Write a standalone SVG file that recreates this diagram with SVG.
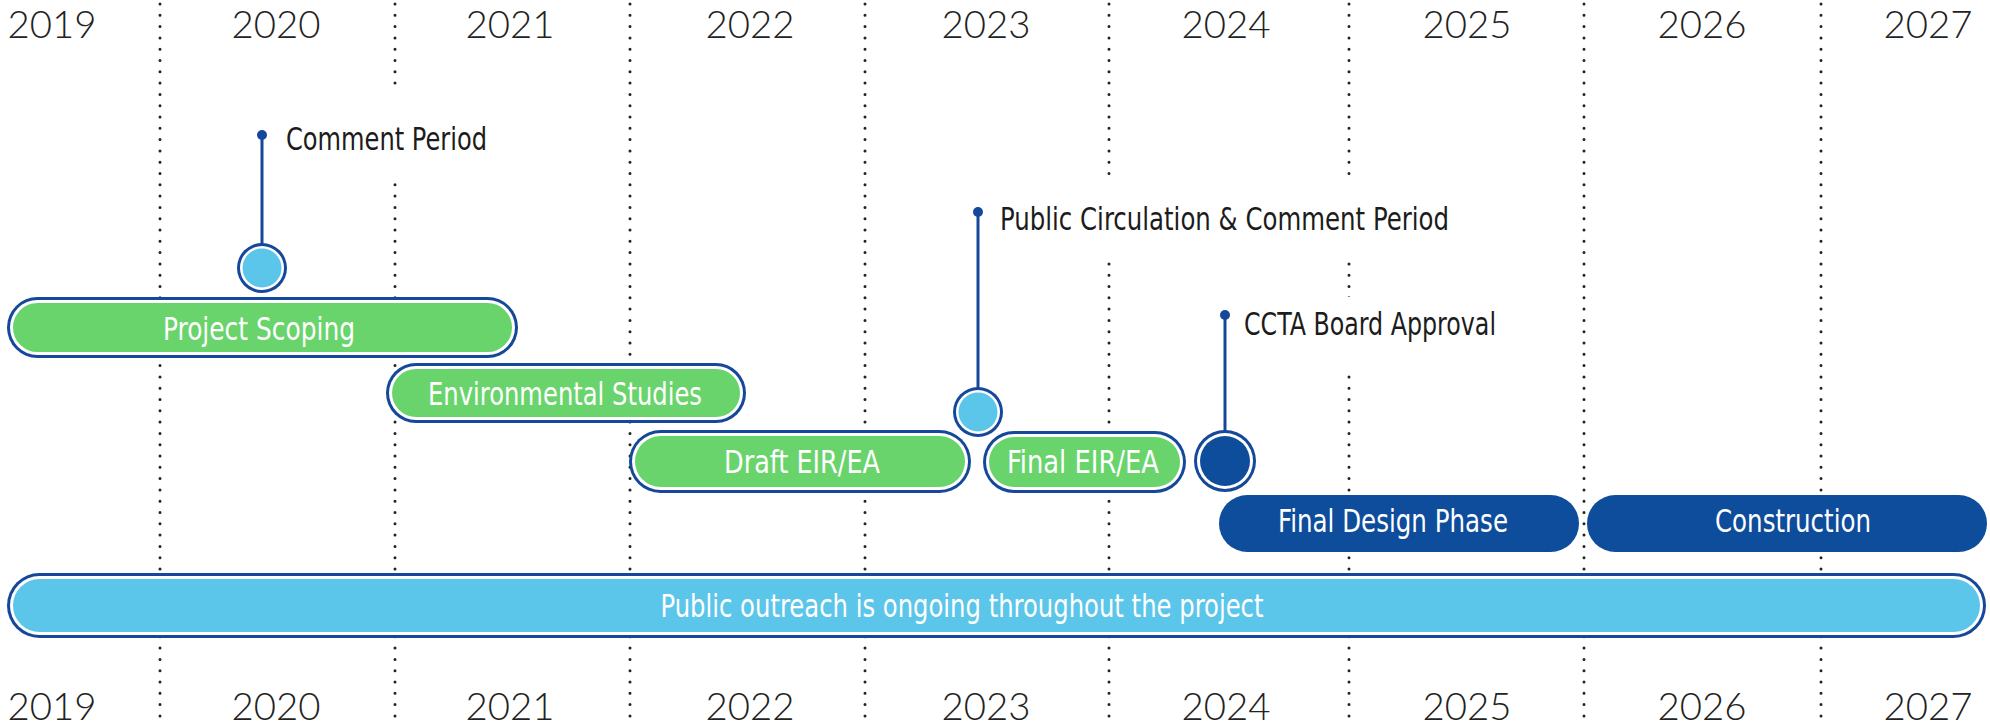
<svg xmlns="http://www.w3.org/2000/svg" width="1990" height="727" viewBox="0 0 1990 727">
<style>
.grid{stroke:#222;stroke-width:3;stroke-linecap:round;stroke-dasharray:0 11.3;fill:none}
.yr{font-family:Lato,"Noto Sans","Liberation Sans",sans-serif;font-weight:300;font-size:37px;fill:#222;text-anchor:middle}
.bt{font-family:"Liberation Sans Narrow","DejaVu Sans Condensed",Roboto,"Liberation Sans",sans-serif;font-size:32px;fill:#fff;text-anchor:middle}
.ct{font-family:"Liberation Sans Narrow","DejaVu Sans Condensed",Roboto,"Liberation Sans",sans-serif;font-size:32px;fill:#1c1c1c}
.outer{fill:#15489A}
.ring{fill:#fff}
.green{fill:#69D46C}
.lblue{fill:#5CC6EA}
.dark{fill:#0E4C9C}
.stem{stroke:#15489A;stroke-width:3;fill:none}
.dot{fill:#15489A}
</style>
<rect width="1990" height="727" fill="#fff"/>
<g id="grid">
<line class="grid" x1="160" y1="4" x2="160" y2="724"/>
<line class="grid" x1="395" y1="4" x2="395" y2="724"/>
<line class="grid" x1="630" y1="4" x2="630" y2="724"/>
<line class="grid" x1="865" y1="4" x2="865" y2="724"/>
<line class="grid" x1="1109" y1="4" x2="1109" y2="724"/>
<line class="grid" x1="1349" y1="4" x2="1349" y2="724"/>
<line class="grid" x1="1584" y1="4" x2="1584" y2="724"/>
<line class="grid" x1="1821" y1="4" x2="1821" y2="724"/>
</g>
<g id="years-top">
<text class="yr" x="52" y="38" textLength="89" lengthAdjust="spacingAndGlyphs">2019</text>
<text class="yr" x="276" y="38" textLength="89" lengthAdjust="spacingAndGlyphs">2020</text>
<text class="yr" x="510" y="38" textLength="89" lengthAdjust="spacingAndGlyphs">2021</text>
<text class="yr" x="750" y="38" textLength="89" lengthAdjust="spacingAndGlyphs">2022</text>
<text class="yr" x="986" y="38" textLength="89" lengthAdjust="spacingAndGlyphs">2023</text>
<text class="yr" x="1226" y="38" textLength="89" lengthAdjust="spacingAndGlyphs">2024</text>
<text class="yr" x="1467" y="38" textLength="89" lengthAdjust="spacingAndGlyphs">2025</text>
<text class="yr" x="1702" y="38" textLength="89" lengthAdjust="spacingAndGlyphs">2026</text>
<text class="yr" x="1928" y="38" textLength="89" lengthAdjust="spacingAndGlyphs">2027</text>
</g>
<g id="years-bottom">
<text class="yr" x="52" y="720" textLength="89" lengthAdjust="spacingAndGlyphs">2019</text>
<text class="yr" x="276" y="720" textLength="89" lengthAdjust="spacingAndGlyphs">2020</text>
<text class="yr" x="510" y="720" textLength="89" lengthAdjust="spacingAndGlyphs">2021</text>
<text class="yr" x="750" y="720" textLength="89" lengthAdjust="spacingAndGlyphs">2022</text>
<text class="yr" x="986" y="720" textLength="89" lengthAdjust="spacingAndGlyphs">2023</text>
<text class="yr" x="1226" y="720" textLength="89" lengthAdjust="spacingAndGlyphs">2024</text>
<text class="yr" x="1467" y="720" textLength="89" lengthAdjust="spacingAndGlyphs">2025</text>
<text class="yr" x="1702" y="720" textLength="89" lengthAdjust="spacingAndGlyphs">2026</text>
<text class="yr" x="1928" y="720" textLength="89" lengthAdjust="spacingAndGlyphs">2027</text>
</g>
<g id="label-comment-period">
<rect x="280" y="85" width="220" height="97" fill="#fff"/>
<text class="ct" x="286" y="150" textLength="201" lengthAdjust="spacingAndGlyphs">Comment Period</text>
</g>
<g id="label-public-circulation">
<rect x="996" y="178" width="466" height="80" fill="#fff"/>
<text class="ct" x="1000" y="230" textLength="449" lengthAdjust="spacingAndGlyphs">Public Circulation &amp; Comment Period</text>
</g>
<g id="label-ccta">
<rect x="1238" y="297" width="268" height="70" fill="#fff"/>
<text class="ct" x="1244" y="335" textLength="252" lengthAdjust="spacingAndGlyphs">CCTA Board Approval</text>
</g>
<g id="connectors">
<line class="stem" x1="262" y1="135" x2="262" y2="250"/>
<circle class="dot" cx="262" cy="135" r="5"/>
<line class="stem" x1="978" y1="212" x2="978" y2="394"/>
<circle class="dot" cx="978" cy="212" r="5"/>
<line class="stem" x1="1225" y1="315" x2="1225" y2="437"/>
<circle class="dot" cx="1225" cy="315" r="5"/>
</g>
<g id="project-scoping">
<rect class="outer" x="7" y="297" width="511" height="61" rx="30.5"/>
<rect class="ring" x="10" y="300" width="505" height="55" rx="27.5"/>
<rect class="green" x="13" y="303" width="499" height="49" rx="24.5"/>
<text class="bt" x="259" y="340" font-size="34" textLength="192" lengthAdjust="spacingAndGlyphs">Project Scoping</text>
</g>
<g id="environmental-studies">
<rect class="outer" x="386" y="363" width="360" height="60" rx="30"/>
<rect class="ring" x="389" y="366" width="354" height="54" rx="27"/>
<rect class="green" x="392" y="369" width="348" height="48" rx="24"/>
<text class="bt" x="565" y="405" font-size="34" textLength="274" lengthAdjust="spacingAndGlyphs">Environmental Studies</text>
</g>
<g id="draft-eir-ea">
<rect class="outer" x="629" y="430" width="342" height="63" rx="31.5"/>
<rect class="ring" x="632" y="433" width="336" height="57" rx="28.5"/>
<rect class="green" x="635" y="436" width="330" height="51" rx="25.5"/>
<text class="bt" x="802" y="473" textLength="156" lengthAdjust="spacingAndGlyphs">Draft EIR/EA</text>
</g>
<g id="final-eir-ea">
<rect class="outer" x="983" y="431" width="203" height="62" rx="31"/>
<rect class="ring" x="986" y="434" width="197" height="56" rx="28"/>
<rect class="green" x="989" y="437" width="191" height="50" rx="25"/>
<text class="bt" x="1083" y="473" textLength="152" lengthAdjust="spacingAndGlyphs">Final EIR/EA</text>
</g>
<g id="final-design-phase">
<rect class="dark" x="1219" y="495" width="360" height="57" rx="28.5"/>
<text class="bt" x="1393" y="532" textLength="230" lengthAdjust="spacingAndGlyphs">Final Design Phase</text>
</g>
<g id="construction">
<rect class="dark" x="1587" y="495" width="400" height="57" rx="28.5"/>
<text class="bt" x="1793" y="532" textLength="156" lengthAdjust="spacingAndGlyphs">Construction</text>
</g>
<g id="public-outreach">
<rect class="outer" x="7" y="573" width="1979" height="65" rx="32.5"/>
<rect class="ring" x="10" y="576" width="1973" height="59" rx="29.5"/>
<rect class="lblue" x="13" y="579" width="1967" height="53" rx="26.5"/>
<text class="bt" x="962" y="617" textLength="603" lengthAdjust="spacingAndGlyphs">Public outreach is ongoing throughout the project</text>
</g>
<g id="milestone-comment-period">
<circle class="outer" cx="262" cy="268" r="25"/>
<circle class="ring" cx="262" cy="268" r="22"/>
<circle class="lblue" cx="262" cy="268" r="19.5"/>
</g>
<g id="milestone-public-circulation">
<circle class="outer" cx="978" cy="412" r="25"/>
<circle class="ring" cx="978" cy="412" r="22"/>
<circle class="lblue" cx="978" cy="412" r="19.5"/>
</g>
<g id="milestone-ccta-approval">
<circle class="outer" cx="1225" cy="461" r="31"/>
<circle class="ring" cx="1225" cy="461" r="28"/>
<circle cx="1225" cy="461" r="25" fill="#0E4C9C"/>
</g>
</svg>
